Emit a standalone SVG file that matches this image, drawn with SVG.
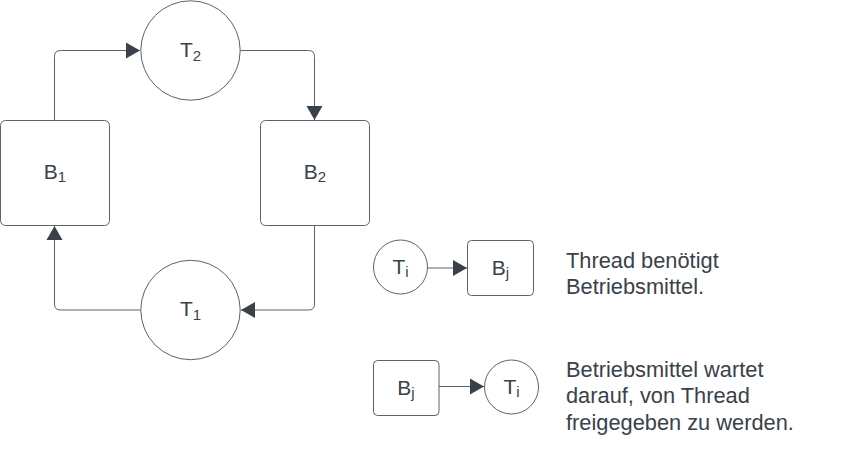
<svg xmlns="http://www.w3.org/2000/svg" width="841" height="457" viewBox="0 0 841 457">
<style>
.shape{fill:#ffffff;stroke:#5e6168;stroke-width:1}
.conn{fill:none;stroke:#5e6168;stroke-width:1}
.lbl{font-family:"Liberation Sans",Arial,sans-serif;font-size:21px;fill:#3a414a;text-anchor:middle}
.sub{font-size:15px}
.txt{font-family:"Liberation Sans",Arial,sans-serif;font-size:21.8px;fill:#3a414a}
</style>
<defs>
<marker id="arr" markerUnits="userSpaceOnUse" markerWidth="16" markerHeight="18" viewBox="0 0 16 18" refX="15" refY="9" orient="auto">
<path d="M1,1 L15,9 L1,17 Z" fill="#3a414a"/>
</marker>
</defs>
<rect width="841" height="457" fill="#ffffff"/>
<g id="connectors">
<path class="conn" d="M54.5,120 V56.5 Q54.5,50.5 60.5,50.5 H140" marker-end="url(#arr)"/>
<path class="conn" d="M240.5,50.5 H308.5 Q314.5,50.5 314.5,56.5 V120" marker-end="url(#arr)"/>
<path class="conn" d="M314.5,225.5 V304 Q314.5,310 308.5,310 H241" marker-end="url(#arr)"/>
<path class="conn" d="M140.5,310 H60.5 Q54.5,310 54.5,304 V226" marker-end="url(#arr)"/>
<path class="conn" d="M427.5,268 H467" marker-end="url(#arr)"/>
<path class="conn" d="M439,386.5 H484" marker-end="url(#arr)"/>
</g>
<g id="T2">
<circle class="shape" cx="190.5" cy="50.5" r="49.7"/>
<text class="lbl" x="190.5" y="57">T<tspan class="sub" dy="4">2</tspan></text>
</g>
<g id="B1">
<rect class="shape" x="0.5" y="120.5" width="109" height="105" rx="5"/>
<text class="lbl" x="55" y="179">B<tspan class="sub" dy="3">1</tspan></text>
</g>
<g id="B2">
<rect class="shape" x="260.5" y="120.5" width="109" height="105" rx="5"/>
<text class="lbl" x="315" y="179">B<tspan class="sub" dy="3">2</tspan></text>
</g>
<g id="T1">
<circle class="shape" cx="190.5" cy="310" r="49.7"/>
<text class="lbl" x="190.5" y="315.5">T<tspan class="sub" dy="4">1</tspan></text>
</g>
<g id="legend-Ti-1">
<circle class="shape" cx="400.5" cy="267" r="27"/>
<text class="lbl" x="400.5" y="274">T<tspan class="sub" dy="3">i</tspan></text>
</g>
<g id="legend-Bj-1">
<rect class="shape" x="467.5" y="240.5" width="66" height="55" rx="4"/>
<text class="lbl" x="500.5" y="275">B<tspan class="sub" dy="3">j</tspan></text>
</g>
<g id="legend-Bj-2">
<rect class="shape" x="373.5" y="360.5" width="65.5" height="55" rx="4"/>
<text class="lbl" x="406" y="395">B<tspan class="sub" dy="3">j</tspan></text>
</g>
<g id="legend-Ti-2">
<circle class="shape" cx="511.5" cy="387" r="27"/>
<text class="lbl" x="511.5" y="394">T<tspan class="sub" dy="3">i</tspan></text>
</g>
<g id="legend-text">
<text class="txt" x="566" y="267.5">Thread benötigt</text>
<text class="txt" x="566" y="293.5">Betriebsmittel.</text>
<text class="txt" x="566" y="377">Betriebsmittel wartet</text>
<text class="txt" x="566" y="403.3">darauf, von Thread</text>
<text class="txt" x="566" y="429.6">freigegeben zu werden.</text>
</g>
</svg>
